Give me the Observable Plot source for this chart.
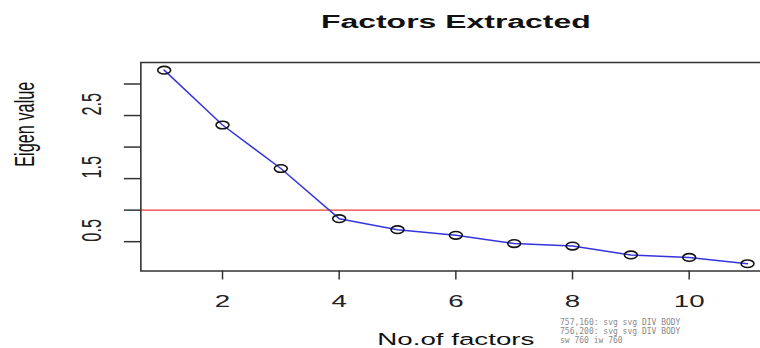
<!DOCTYPE html>
<html>
<head>
<meta charset="utf-8">
<script src="https://cdn.jsdelivr.net/npm/d3@7"></script>
<script src="https://cdn.jsdelivr.net/npm/@observablehq/plot@0.6"></script>
<style>
  html, body { margin: 0; padding: 0; background: #fff; overflow: hidden; width: 760px; height: 348px; }
  #chart { position: relative; width: 760px; height: 348px; overflow: hidden; }
  #chart svg { position: absolute; left: 0; top: 0; overflow: hidden; }
  #chart svg * { vector-effect: non-scaling-stroke; }
  #dbg { position: absolute; left: 560px; top: 318px; font: 8px monospace; white-space: pre; color: #888; }
</style>
</head>
<body>
<div id="chart"></div>
<div id="dbg"></div>
<script>
// Data
const factors = [1, 2, 3, 4, 5, 6, 7, 8, 9, 10, 11];
const eigen = [3.22, 2.35, 1.66, 0.865, 0.69, 0.60, 0.47, 0.43, 0.29, 0.25, 0.15];
const xTicks = [2, 4, 6, 8, 10];
const yTicks = [0.5, 1.0, 1.5, 2.0, 2.5, 3.0];
const yTickLabels = [0.5, 1.5, 2.5];
const kaiserLine = [1];
const titleText = "Factors Extracted";
const xLabel = "No.of factors";
const yLabel = "Eigen value";

const data = factors.map((f, i) => ({factor: f, eigen: eigen[i]}));

const STRETCH = 1.7;
const W = 760, H = 348;
const Wfull = 770 / STRETCH;
const Wview = W / STRETCH;
const mLeft = 140 / STRETCH;
const mTop = 62, mBottom = H - 270.5;
const font = "Liberation Sans, Arial, Helvetica, sans-serif";

const common = {
  width: Wfull, height: H,
  marginLeft: mLeft, marginRight: 0, marginTop: mTop, marginBottom: mBottom,
  x: {domain: [0.6, 11.4], axis: null},
  y: {domain: [0.035, 3.341], axis: null}
};

const chart = Plot.plot({
  ...common,
  style: {background: "#fff"},
  marks: [
    Plot.ruleY(kaiserLine, {stroke: "#ee3b3b", strokeWidth: 1.3}),
    Plot.line(data, {x: "factor", y: "eigen", stroke: "#3535dd", strokeWidth: 1.5}),
    Plot.dot(data, {x: "factor", y: "eigen", r: 3.8, stroke: "#151515", strokeWidth: 1.6, fill: "none"}),
    Plot.frame({stroke: "#333", strokeWidth: 1.6}),
    Plot.axisX({ticks: xTicks, tickSize: 9, tickFormat: () => "", stroke: "#333", strokeWidth: 1.5, label: null}),
    Plot.axisY({ticks: yTicks, tickSize: 9.5, tickFormat: () => "", stroke: "#333", strokeWidth: 1.5, label: null})
  ]
});

const texts = Plot.plot({
  ...common,
  style: {fontFamily: font, background: "transparent"},
  marks: [
    Plot.text(xTicks, {x: d => d, frameAnchor: "bottom", dy: 30.5, lineAnchor: "middle", text: d => String(d), fontSize: 16.3, fill: "#222"}),
    Plot.text(yTickLabels, {y: d => d, frameAnchor: "left", dx: 91.7 / STRETCH - mLeft, rotate: -90, lineAnchor: "middle", text: d => d.toFixed(1), fontSize: 16.3, fill: "#222"}),
    Plot.text([titleText], {frameAnchor: "top", dy: 21.5 - mTop, lineAnchor: "middle", text: d => d, fontSize: 18.8, fontWeight: "bold", fill: "#111"}),
    Plot.text([xLabel], {frameAnchor: "bottom", dy: 339.2 - 270.5, lineAnchor: "middle", text: d => d, fontSize: 16.3, fill: "#111"}),
    Plot.text([yLabel], {frameAnchor: "left", dx: 24 / STRETCH - mLeft, rotate: -90, lineAnchor: "middle", text: d => d, fontSize: 16.3, fill: "#111"})
  ]
});

for (const svg of [chart, texts]) {
  svg.setAttribute("viewBox", `0 0 ${Wview} ${H}`);
  svg.setAttribute("width", W);
  svg.setAttribute("height", H);
  svg.setAttribute("preserveAspectRatio", "none");
  svg.style.width = W + "px";
  svg.style.height = H + "px";
  svg.style.maxWidth = "none";
  svg.style.display = "block";
  document.getElementById("chart").appendChild(svg);
}
const desc = el => el.tagName + (el.getAttribute && el.getAttribute("aria-label") ? "[" + el.getAttribute("aria-label") + "]" : "") +
  (el.parentNode && el.parentNode.getAttribute && el.parentNode.getAttribute("aria-label") ? "<" + el.parentNode.getAttribute("aria-label") : "");
const at = (x, y) => document.elementsFromPoint(x, y).slice(0, 4).map(desc).join(" ");
document.getElementById("dbg").textContent =
  "757,160: " + at(757, 160) + "\n756,200: " + at(756, 200) + "\nsw " + document.documentElement.scrollWidth + " iw " + innerWidth;
</script>
</body>
</html>
